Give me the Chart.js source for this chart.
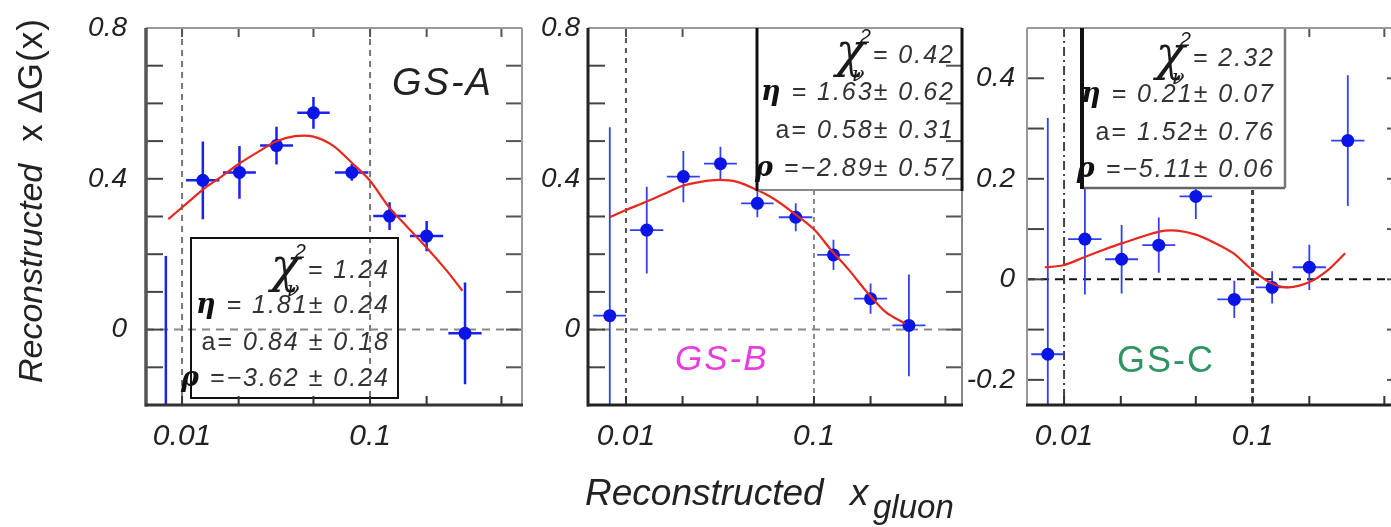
<!DOCTYPE html>
<html>
<head>
<meta charset="utf-8">
<script src="https://cdn.jsdelivr.net/npm/chart.js@4.4.1/dist/chart.umd.min.js"></script>
<style>
  html, body { margin: 0; padding: 0; background: #fff; overflow: hidden; }
  #wrap { position: relative; width: 1391px; height: 527px; overflow: hidden; }
  canvas { position: absolute; top: 0; }
</style>
</head>
<body>
<div id="wrap">
  <canvas id="gsa" width="540" height="527" style="left:0px"></canvas>
  <canvas id="gsb" width="440" height="527" style="left:530px"></canvas>
  <canvas id="gsc" width="470" height="527" style="left:950px"></canvas>
</div>
<script>
const FONT = '"Liberation Sans", Arial, sans-serif';

// x bins: centres and edges (same binning in all three panels)
const xBins = [0.0082, 0.0129, 0.0202, 0.0318, 0.050, 0.080, 0.127, 0.20, 0.32];
const xLow  = [0.0067, 0.0105, 0.0165, 0.0260, 0.041, 0.065, 0.104, 0.163, 0.261];
const xHigh = [0.0100, 0.0158, 0.0247, 0.0389, 0.061, 0.098, 0.155, 0.245, 0.392];

// reconstructed x*dG(x) with errors
const gsaY   = [-0.45, 0.396, 0.417, 0.488, 0.575, 0.417, 0.301, 0.248, -0.010];
const gsaErr = [0.645, 0.103, 0.070, 0.050, 0.042, 0.022, 0.037, 0.040, 0.135];
const gsbY   = [0.037, 0.264, 0.406, 0.440, 0.335, 0.298, 0.198, 0.082, 0.011];
const gsbErr = [0.500, 0.115, 0.068, 0.045, 0.037, 0.037, 0.040, 0.040, 0.135];
const gscY   = [-0.149, 0.080, 0.040, 0.068, 0.165, -0.040, -0.016, 0.024, 0.276];
const gscErr = [0.470, 0.110, 0.068, 0.055, 0.045, 0.037, 0.032, 0.045, 0.130];

// fitted curves
const gsaFitX = [0.00845, 0.0106, 0.0131, 0.0162, 0.0201, 0.0255, 0.0316, 0.0398, 0.050, 0.0635, 0.081, 0.100, 0.126, 0.160, 0.203, 0.255, 0.31];
const gsaFitY = [0.293, 0.335, 0.374, 0.406, 0.440, 0.472, 0.499, 0.513, 0.512, 0.488, 0.440, 0.395, 0.325, 0.269, 0.214, 0.157, 0.103];
const gsbFitX = [0.0082, 0.010, 0.0125, 0.0158, 0.0199, 0.025, 0.0313, 0.039, 0.049, 0.062, 0.077, 0.10, 0.122, 0.153, 0.191, 0.24, 0.305];
const gsbFitY = [0.298, 0.317, 0.337, 0.359, 0.381, 0.392, 0.397, 0.392, 0.372, 0.345, 0.311, 0.266, 0.214, 0.159, 0.100, 0.047, 0.016];
const gscFitX = [0.0079, 0.0099, 0.0128, 0.016, 0.0204, 0.032, 0.0397, 0.050, 0.0635, 0.079, 0.10, 0.126, 0.155, 0.199, 0.25, 0.31];
const gscFitY = [0.024, 0.028, 0.044, 0.058, 0.072, 0.095, 0.097, 0.089, 0.072, 0.052, 0.018, -0.008, -0.016, -0.006, 0.018, 0.052];

// fit results shown in the boxes
const gsaFit = ['1.24', '1.81\u00b1 0.24', '0.84 \u00b1 0.18', '\u22123.62 \u00b1 0.24'];
const gsbFit = ['0.42', '1.63\u00b1 0.62', '0.58\u00b1 0.31', '\u22122.89\u00b1 0.57'];
const gscFit = ['2.32', '0.21\u00b1 0.07', '1.52\u00b1 0.76', '\u22125.11\u00b1 0.06'];

// ticks
const xLabelTicks = [0.01, 0.1];
const xTickMarks = [0.01, 0.02, 0.05, 0.1, 0.2, 0.5];
const yLabelsAB = [0.8, 0.4, 0];
const yLabelsC = [0.4, 0.2, 0, -0.2];
const yMarksAB = [-0.1, 0, 0.1, 0.2, 0.3, 0.4, 0.5, 0.6, 0.7];
const yMarksC = [-0.2, -0.1, 0, 0.1, 0.2, 0.3, 0.4];

function line(ctx, x0, y0, x1, y1, color, w, dash) {
  ctx.save();
  ctx.strokeStyle = color;
  ctx.lineWidth = w;
  ctx.setLineDash(dash || []);
  ctx.beginPath();
  ctx.moveTo(x0, y0);
  ctx.lineTo(x1, y1);
  ctx.stroke();
  ctx.restore();
}

// right-aligned run of [font, colour, text] pieces
function drawRun(ctx, parts, right, base) {
  ctx.save();
  ctx.letterSpacing = '2px';
  ctx.textAlign = 'left';
  ctx.textBaseline = 'alphabetic';
  let total = 0;
  parts.forEach(p => { ctx.font = p[0]; total += ctx.measureText(p[2]).width; });
  let cx = right - total;
  parts.forEach(p => {
    ctx.font = p[0];
    ctx.fillStyle = p[1];
    ctx.fillText(p[2], cx, base);
    cx += ctx.measureText(p[2]).width;
  });
  ctx.restore();
}

function drawFitBox(ctx, vals, right, bases) {
  const num = 'italic 25px ' + FONT;
  const sym = 'bold italic 27px "DejaVu Serif"';
  // chi^2_nu line
  ctx.save();
  ctx.letterSpacing = '2px';
  ctx.font = num;
  ctx.textBaseline = 'alphabetic';
  ctx.textAlign = 'right';
  ctx.fillStyle = '#333';
  const eq = '= ' + vals[0];
  ctx.fillText(eq, right, bases[0]);
  const chiRight = right - ctx.measureText(eq).width - 8;
  ctx.letterSpacing = '0px';
  ctx.font = 'italic 48px "DejaVu Serif"';
  ctx.fillStyle = '#1a1a1a';
  ctx.fillText('\u03c7', chiRight, bases[0] + 4);
  ctx.textAlign = 'left';
  ctx.font = 'italic 20px ' + FONT;
  ctx.fillText('2', chiRight - 5, bases[0] - 20);
  ctx.font = 'italic 21px "DejaVu Serif"';
  ctx.fillText('\u03bd', chiRight - 13, bases[0] + 18);
  ctx.restore();

  drawRun(ctx, [[sym, '#111', '\u03b7'], [num, '#333', ' = ' + vals[1]]], right, bases[1]);
  drawRun(ctx, [['25px ' + FONT, '#333', 'a= '], [num, '#333', vals[2]]], right, bases[2]);
  drawRun(ctx, [[sym, '#111', '\u03c1'], [num, '#333', ' =' + vals[3]]], right, bases[3]);
}

function label(ctx, text, x, base, font, color, spacing) {
  ctx.save();
  ctx.font = font;
  ctx.fillStyle = color;
  ctx.letterSpacing = spacing || '0px';
  ctx.textAlign = 'left';
  ctx.textBaseline = 'alphabetic';
  ctx.fillText(text, x, base);
  ctx.restore();
}

function decor(p) {
  return {
    id: 'decor',
    beforeDatasetsDraw(chart) {
      const { ctx, chartArea: a, scales: { x, y } } = chart;
      ctx.save();
      ctx.beginPath();
      ctx.rect(a.left, a.top, a.right - a.left, a.bottom - a.top);
      ctx.clip();
      p.guides(ctx, x, y, a);
      // error bars
      ctx.strokeStyle = p.errColor;
      ctx.lineWidth = p.errWidth;
      p.ys.forEach((v, i) => {
        const px = x.getPixelForValue(xBins[i]);
        const py = y.getPixelForValue(v);
        ctx.beginPath();
        ctx.moveTo(px, y.getPixelForValue(v - p.errs[i]));
        ctx.lineTo(px, y.getPixelForValue(v + p.errs[i]));
        ctx.moveTo(x.getPixelForValue(xLow[i]), py);
        ctx.lineTo(x.getPixelForValue(xHigh[i]), py);
        ctx.stroke();
      });
      ctx.restore();
    },
    afterDatasetsDraw(chart) {
      const { ctx, chartArea: a, scales: { x, y } } = chart;
      p.overlay(ctx, x, y, a);
      // inward tick marks on all four sides
      p.yMarks.forEach(v => {
        const py = y.getPixelForValue(v);
        line(ctx, a.left, py, a.left + 17, py, '#444', 2);
        line(ctx, a.right - 16, py, a.right, py, '#555', 2);
      });
      xTickMarks.forEach(v => {
        const px = x.getPixelForValue(v);
        line(ctx, px, a.bottom, px, a.bottom - 9, '#333', 2);
        if (p.topTicks(px)) line(ctx, px, a.top, px, a.top + 9, '#555', 2);
      });
      const f = p.frame;
      line(ctx, a.left, a.top, a.right, a.top, f.top[0], f.top[1]);
      line(ctx, a.right, a.top, a.right, a.bottom, f.right[0], f.right[1]);
      line(ctx, a.left, a.top, a.left, a.bottom + 1.5, f.left[0], f.left[1]);
      line(ctx, a.left - 1, a.bottom, a.right + 1, a.bottom, f.bottom[0], f.bottom[1]);
      p.after(ctx, x, y, a);
    }
  };
}

function makePanel(id, p) {
  return new Chart(document.getElementById(id), {
    type: 'scatter',
    data: {
      datasets: [
        {
          data: p.fitX.map((v, i) => ({ x: v, y: p.fitY[i] })),
          showLine: true,
          borderColor: '#e8281e',
          borderWidth: 2.2,
          pointRadius: 0,
          tension: 0.3,
          order: 0
        },
        {
          data: xBins.map((v, i) => ({ x: v, y: p.ys[i] })),
          backgroundColor: '#0a14e6',
          borderWidth: 0,
          pointRadius: 6.5,
          order: 1
        }
      ]
    },
    options: {
      responsive: false,
      animation: false,
      events: [],
      layout: { padding: { top: 28, right: p.rightPad, left: 0, bottom: 0 } },
      plugins: { legend: { display: false }, tooltip: { enabled: false } },
      scales: {
        x: {
          type: 'logarithmic',
          min: p.xMin,
          max: p.xMax,
          grid: { display: false },
          border: { display: false },
          afterBuildTicks: s => { s.ticks = xLabelTicks.map(v => ({ value: v })); },
          afterFit: s => { s.height = 122; },
          ticks: {
            autoSkip: false, maxRotation: 0, padding: 6, color: '#222',
            font: { family: FONT, size: 30, style: 'italic' },
            callback: v => String(v)
          }
        },
        y: {
          type: 'linear',
          min: p.yMin,
          max: p.yMax,
          grid: { display: false },
          border: { display: false },
          afterBuildTicks: s => { s.ticks = p.yLabels.map(v => ({ value: v })); },
          afterFit: s => { s.width = p.axisWidth; },
          ticks: {
            padding: p.tickPad, color: '#222',
            font: { family: FONT, size: 28, style: 'italic' },
            callback: v => String(v)
          }
        }
      }
    },
    plugins: [decor(p)]
  });
}

// GS-A
makePanel('gsa', {
  xMin: 0.00643, xMax: 0.643, yMin: -0.2, yMax: 0.8,
  axisWidth: 146, tickPad: 11, rightPad: 18,
  yLabels: yLabelsAB, yMarks: yMarksAB,
  ys: gsaY, errs: gsaErr, fitX: gsaFitX, fitY: gsaFitY,
  errColor: '#1a22f0', errWidth: 2.5,
  frame: { top: ['#999', 2], right: ['#999', 2], left: ['#555', 3.5], bottom: ['#333', 3] },
  topTicks: () => true,
  guides(ctx, x, y, a) {
    [0.01, 0.1].forEach(v => {
      const px = x.getPixelForValue(v);
      line(ctx, px, a.top, px, a.bottom, '#777', 2, [6, 5]);
    });
    const z = y.getPixelForValue(0);
    line(ctx, a.left, z, a.right, z, '#888', 2, [8, 6]);
  },
  overlay(ctx) {
    ctx.save();
    ctx.strokeStyle = '#111';
    ctx.lineWidth = 2;
    ctx.strokeRect(191, 238, 207, 160);
    ctx.restore();
    drawFitBox(ctx, gsaFit, 390, [278, 313, 350, 386]);
    label(ctx, 'GS-A', 392, 95, 'italic 38px ' + FONT, '#222', '2px');
  },
  after(ctx) {
    // y-axis title
    ctx.save();
    ctx.translate(42, 383);
    ctx.rotate(-Math.PI / 2);
    ctx.fillStyle = '#222';
    ctx.textAlign = 'left';
    ctx.textBaseline = 'alphabetic';
    ctx.font = 'italic 34px ' + FONT;
    ctx.fillText('Reconstructed', 0, 0);
    const w = ctx.measureText('Reconstructed').width + 22;
    ctx.font = '35px ' + FONT;
    ctx.letterSpacing = '1px';
    ctx.fillText('x \u2206G(x)', w, 0);
    ctx.restore();
  }
});

// GS-B
makePanel('gsb', {
  xMin: 0.00628, xMax: 0.613, yMin: -0.2, yMax: 0.8,
  axisWidth: 58, tickPad: 0, rightPad: 8,
  yLabels: yLabelsAB, yMarks: yMarksAB,
  ys: gsbY, errs: gsbErr, fitX: gsbFitX, fitY: gsbFitY,
  errColor: '#3340f0', errWidth: 1.8,
  frame: { top: ['#999', 2], right: ['#888', 2], left: ['#222', 3], bottom: ['#222', 3] },
  topTicks: px => px < 227,
  guides(ctx, x, y, a) {
    const p1 = x.getPixelForValue(0.01);
    line(ctx, p1, a.top, p1, a.bottom, '#555', 2, [5, 5]);
    const p2 = x.getPixelForValue(0.1);
    line(ctx, p2, a.top, p2, a.bottom, '#666', 1.5, [5, 4]);
    const z = y.getPixelForValue(0);
    line(ctx, a.left, z, a.right, z, '#888', 2, [8, 6]);
  },
  overlay(ctx, x, y, a) {
    ctx.save();
    ctx.fillStyle = '#fff';
    ctx.fillRect(227, a.top, a.right - 227, 190 - a.top);
    ctx.restore();
    line(ctx, 227, 190, a.right, 190, '#888', 2);
    drawFitBox(ctx, gsbFit, 425, [63, 100, 138, 176]);
    label(ctx, 'GS-B', 145, 370, 'italic 35px ' + FONT, '#e83ce0', '2px');
  },
  after(ctx, x, y, a) {
    line(ctx, 227, a.top, 227, 191, '#111', 3);
    line(ctx, a.right, a.top, a.right, 191, '#111', 3);
    // x-axis title
    label(ctx, 'Reconstructed', 55, 505, 'italic 37px ' + FONT, '#222');
    label(ctx, 'x', 320, 505, 'italic 37px ' + FONT, '#222');
    label(ctx, 'gluon', 343, 518, 'italic 33px ' + FONT, '#222');
  }
});

// GS-C
makePanel('gsc', {
  xMin: 0.00636, xMax: 0.628, yMin: -0.25, yMax: 0.5,
  axisWidth: 77, tickPad: 4, rightPad: 17,
  yLabels: yLabelsC, yMarks: yMarksC,
  ys: gscY, errs: gscErr, fitX: gscFitX, fitY: gscFitY,
  errColor: '#3340f0', errWidth: 1.8,
  frame: { top: ['#999', 2], right: ['#999', 2], left: ['#999', 2], bottom: ['#222', 3] },
  topTicks: px => px > 335,
  guides(ctx, x, y, a) {
    const p1 = x.getPixelForValue(0.01);
    line(ctx, p1, a.top, p1, a.bottom, '#444', 2, [9, 4, 2, 4]);
    const p2 = x.getPixelForValue(0.1);
    line(ctx, p2, a.top, p2, a.bottom, '#444', 3, [5, 4]);
    const z = y.getPixelForValue(0);
    line(ctx, a.left, z, a.right, z, '#111', 2, [8, 6]);
  },
  overlay(ctx, x, y, a) {
    ctx.save();
    ctx.fillStyle = '#fff';
    ctx.fillRect(132, a.top, 203, 188 - a.top);
    ctx.restore();
    line(ctx, 132, 188, 335, 188, '#666', 2.5);
    line(ctx, 335, a.top, 335, 188, '#777', 2.5);
    drawFitBox(ctx, gscFit, 325, [66, 102, 140, 177]);
    label(ctx, 'GS-C', 167, 372, '36px ' + FONT, '#2e9460', '2px');
  },
  after(ctx, x, y, a) {
    line(ctx, 132, a.top, 132, 189, '#111', 4);
  }
});
</script>
</body>
</html>
